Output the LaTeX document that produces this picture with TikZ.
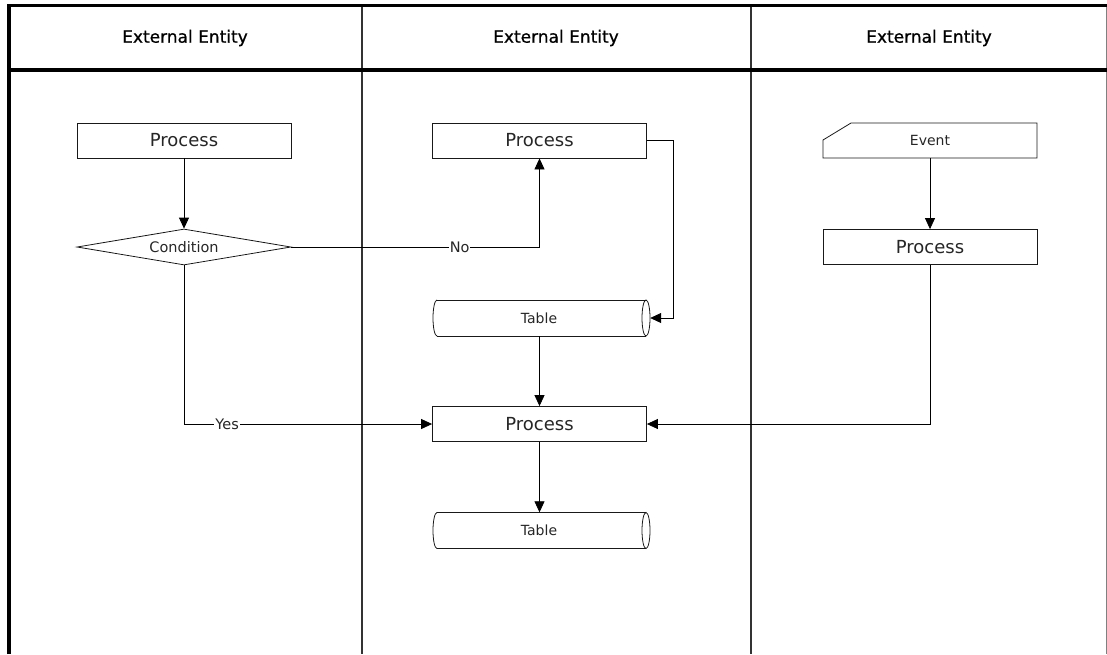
\documentclass[tikz,border=0pt]{standalone}
\usepackage{fontspec}
\setmainfont{DejaVu Sans}
\newfontfamily\headfont[FakeBold=0.8]{DejaVu Sans}
\usetikzlibrary{arrows.meta,shapes.geometric}
\begin{document}
\begin{tikzpicture}[x=1pt,y=-1pt,
  outline/.style={draw=black!90, line width=0.8pt},
  proc/.style={outline, minimum width=214pt, minimum height=35pt, inner sep=0pt, text=black!85, font=\fontsize{18}{20}\selectfont},
  cond/.style={outline, diamond, aspect=6, minimum width=214pt, minimum height=36pt, inner sep=0pt, text=black!85, font=\fontsize{14.5}{16}\selectfont},
  tbl/.style={minimum width=222pt, minimum height=36pt, inner sep=0pt, text=black!85, font=\fontsize{14}{16}\selectfont},
  evt/.style={minimum width=214pt, minimum height=35pt, inner sep=0pt, text=black!85, font=\fontsize{14}{16}\selectfont},
  head/.style={font=\headfont\fontsize{17}{20}\selectfont, text=black},
  lbl/.style={fill=white, inner sep=1pt, text=black!85, font=\fontsize{14.5}{16}\selectfont},
  arr/.style={draw=black, line width=0.8pt, -{Triangle[length=11pt,width=10pt]}},
  frame/.style={line width=3.5pt, draw=black},
  lane/.style={line width=1.5pt, draw=black!80}
]
\useasboundingbox (0,0) rectangle (1107,654);
% frame
\draw[lane] (362,5) -- (362,654);
\draw[lane] (751,5) -- (751,654);
\draw[line width=1pt, draw=black!50] (1106,5) -- (1106,654);
\draw[frame, line join=miter] (9,654) -- (9,5.5) -- (1107,5.5);
\draw[frame] (9,70) -- (1107,70);
\node[head] (h1) at (185,38) {External Entity};
\node[head] (h2) at (556,38) {External Entity};
\node[head] (h3) at (929,38) {External Entity};
% nodes
\node[proc] (p1) at (184,140.5) {Process};
\node[cond] (c) at (184,247) {Condition};
\node[proc] (p2) at (539.5,140.5) {Process};
\node[tbl] (t1) at (539,318) {Table};
\node[proc] (p3) at (539.5,424) {Process};
\node[tbl] (t2) at (539,530.5) {Table};
\node[evt] (ev) at (930,140.5) {Event};
\node[proc] (p4) at (930,247) {Process};
% table outlines
\draw[outline] (437,300) -- (646,300);
\draw[outline] (437,336) -- (646,336);
\draw[outline] (437,300) arc[start angle=90, end angle=270, x radius=4pt, y radius=18pt];
\draw[outline] (646,318) ellipse [x radius=4pt, y radius=18pt];
\draw[outline] (437,512.5) -- (646,512.5);
\draw[outline] (437,548.5) -- (646,548.5);
\draw[outline] (437,512.5) arc[start angle=90, end angle=270, x radius=4pt, y radius=18pt];
\draw[outline] (646,530.5) ellipse [x radius=4pt, y radius=18pt];
% event outline
\draw[outline] (823,140) -- (851,123) -- (1037,123) -- (1037,158) -- (823,158) -- cycle;
% connectors
\draw[arr] (p1) -- (c);
\draw[arr] (c.east) -| node[lbl, pos=0.339] (no) {No} (p2);
\draw[arr] (p2.east) -- ++(26,0) |- (t1.east);
\draw[arr] (p3.north |- t1.south) -- (p3.north);
\draw[arr] (c.south) |- node[lbl, pos=0.587] (yes) {Yes} (p3.west);
\draw[arr] (ev.south) -- (p4.north);
\draw[arr] (p4.south) |- (p3.east);
\draw[arr] (p3.south) -- (p3.south |- t2.north);
\end{tikzpicture}
\end{document}
